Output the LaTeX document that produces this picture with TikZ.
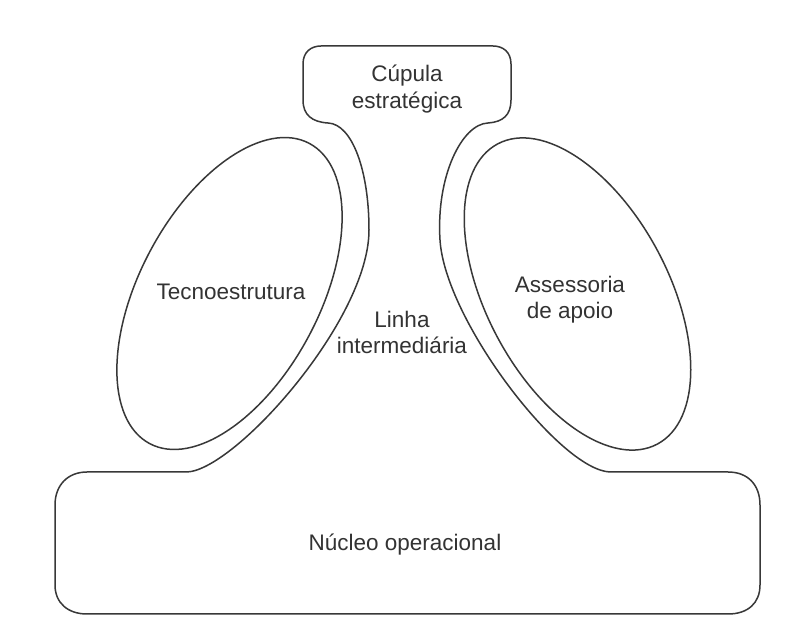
\documentclass[tikz,border=0pt]{standalone}
\usepackage{fontspec}
\setmainfont{Liberation Sans}
\begin{document}
\begin{tikzpicture}[x=1pt,y=1pt,
  outline/.style={draw=black!78, line width=1.5pt, line join=round},
  lbl/.style={text=black!80, font=\fontsize{22.5}{26}\selectfont, align=center, inner sep=0pt}]
\useasboundingbox[fill=white] (0,0) rectangle (793,632);
% main outline: top apex, middle line, operating core
\draw[outline]
  (303,568) -- (303,532)
  .. controls (303,517) and (312,510) .. (328,509)
  .. controls (352,508) and (369,462) .. (369,402)
  .. controls (369,312) and (235,162) .. (187,160)
  -- (87,160)
  .. controls (68,160) and (55,147) .. (55,127)
  -- (55,47)
  .. controls (55,29) and (68,18) .. (87,18)
  -- (728,18)
  .. controls (748,18) and (760,29) .. (760,47)
  -- (760,127)
  .. controls (760,147) and (748,160) .. (728,160)
  -- (610,160)
  .. controls (560,162) and (445,312) .. (440,392)
  .. controls (436,456) and (462,508) .. (488,509)
  .. controls (503,510) and (511,517) .. (511,532)
  -- (511,568)
  .. controls (511,580) and (503,586) .. (493,586)
  -- (321,586)
  .. controls (311,586) and (303,580) .. cycle;
% technostructure and support staff
\draw[outline, rotate around={62:(229.5,338.5)}] (229.5,338.5) ellipse (170 and 90);
\draw[outline, rotate around={-62:(577.5,338)}] (577.5,338) ellipse (170 and 91);
% labels
\node[lbl] (cupula) at (407,543) {Cúpula\\[1pt]estratégica};
\node[lbl] (tecno) at (231,340) {Tecnoestrutura};
\node[lbl] (assess) at (570,332) {Assessoria\\de apoio};
\node[lbl] (linha) at (402,299.5) {Linha\\intermediária};
\node[lbl] (nucleo) at (405,87) {Núcleo operacional};
\end{tikzpicture}
\end{document}
